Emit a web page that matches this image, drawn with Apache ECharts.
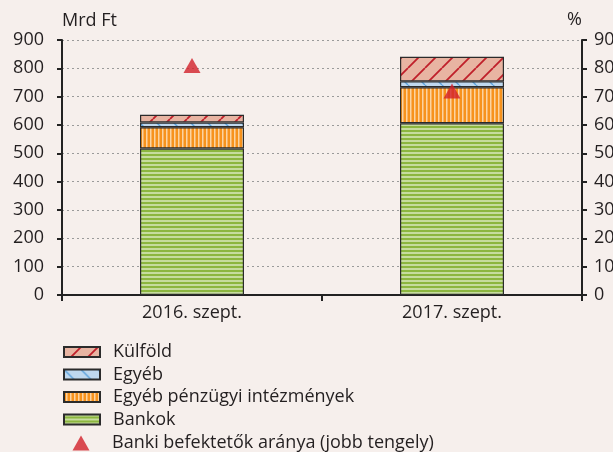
<!DOCTYPE html>
<html><head><meta charset="utf-8">
<script src="https://cdn.jsdelivr.net/npm/echarts@6/dist/echarts.min.js"></script>
<style>html,body{margin:0;padding:0;background:#f6efec;}#c{width:613px;height:452px;}</style>
</head><body><div id="c"></div>
<script>
const categories = ['2016. szept.', '2017. szept.'];
const bankok = [517, 606];
const egyebPenzugyi = [75, 127];
const egyeb = [17, 21];
const kulfold = [27, 87];
const bankiArany = [81, 72];
const leftTicks = [0, 900, 100];
const rightTicks = [0, 90, 10];

function pat(w, h, draw) {
  const c = document.createElement('canvas');
  c.width = w; c.height = h;
  const g = c.getContext('2d');
  draw(g, w, h);
  return { image: c, repeat: 'repeat' };
}
const greenPat = pat(4, 4, (g) => {
  g.fillStyle = '#c6dc9e'; g.fillRect(0, 0, 4, 4);
  g.fillStyle = '#8cb63f'; g.fillRect(0, 2, 4, 2);
});
const orangePat = pat(4, 4, (g) => {
  g.fillStyle = '#f7921c'; g.fillRect(0, 0, 4, 4);
  g.fillStyle = '#fcd3a0'; g.fillRect(2, 0, 1, 4);
  g.fillStyle = '#f9b261'; g.fillRect(3, 0, 1, 4);
});
const P = 17;
const bluePat = pat(P, P, (g) => {
  g.fillStyle = '#bfd8ef'; g.fillRect(0, 0, P, P);
  g.strokeStyle = '#5ca2dc'; g.lineWidth = 1.4;
  g.beginPath();
  g.moveTo(0, 0); g.lineTo(P, P);
  g.moveTo(-P, 0); g.lineTo(0, P);
  g.moveTo(P, 0); g.lineTo(2 * P, P);
  g.stroke();
});
const redPat = pat(P, P, (g) => {
  g.fillStyle = '#e8b4a2'; g.fillRect(0, 0, P, P);
  g.strokeStyle = '#c01f2b'; g.lineWidth = 1.8;
  g.beginPath();
  g.moveTo(0, P); g.lineTo(P, 0);
  g.moveTo(-P, P); g.lineTo(0, 0);
  g.moveTo(P, P); g.lineTo(2 * P, 0);
  g.stroke();
});

const FONT = 'Open Sans';
const FS = 18;
const txt = '#231f20';
const chart = echarts.init(document.getElementById('c'));
const barStyle = (fill) => ({ color: fill, borderColor: '#2b2b2b', borderWidth: 1.2 });
chart.setOption({
  backgroundColor: '#f6efec',
  animation: false,
  textStyle: { fontFamily: FONT },
  grid: { left: 62, right: 31, top: 40, bottom: 157, containLabel: false, outerBoundsMode: 'none' },
  legend: [{
    orient: 'vertical', left: 63, top: 343, padding: 0,
    icon: 'rect',
    itemWidth: 36, itemHeight: 10, itemGap: 4.5,
    textStyle: { fontFamily: FONT, fontSize: FS, color: txt, padding: [0, 0, 0, 8] },
    data: ['Külföld', 'Egyéb', 'Egyéb pénzügyi intézmények', 'Bankok']
  }, {
    orient: 'vertical', left: 72.5, top: 434, padding: 0,
    itemWidth: 17, itemHeight: 15,
    textStyle: { fontFamily: FONT, fontSize: FS, color: txt, padding: [0, 0, 0, 17.5] },
    data: [{ name: 'Banki befektetők aránya (jobb tengely)', icon: 'triangle' }]
  }],
  graphic: [{
    type: 'text', right: 31, top: 11,
    style: { text: '%', fill: txt, fontFamily: FONT, fontSize: FS }
  }],
  xAxis: {
    type: 'category', data: categories,
    axisLine: { lineStyle: { color: '#222', width: 2 } },
    axisTick: { show: true, length: 6, lineStyle: { color: '#222', width: 2 } },
    axisLabel: { color: txt, fontSize: FS, fontFamily: FONT, margin: 9 }
  },
  yAxis: [{
    type: 'value', min: leftTicks[0], max: leftTicks[1], interval: leftTicks[2],
    name: 'Mrd Ft', nameGap: 10, nameTextStyle: { color: txt, fontSize: FS, fontFamily: FONT, align: 'left' },
    axisLine: { show: true, lineStyle: { color: '#222', width: 2 } },
    axisTick: { show: true, length: 5, lineStyle: { color: '#222', width: 2 } },
    axisLabel: { color: txt, fontSize: FS, fontFamily: FONT, margin: 18 },
    splitLine: { show: true, lineStyle: { color: '#9a9a9a', type: [2, 3], width: 1 } }
  }, {
    type: 'value', min: rightTicks[0], max: rightTicks[1], interval: rightTicks[2],
    axisLine: { show: true, lineStyle: { color: '#222', width: 2 } },
    axisTick: { show: true, length: 5, lineStyle: { color: '#222', width: 2 } },
    axisLabel: { color: txt, fontSize: FS, fontFamily: FONT, margin: 12 },
    splitLine: { show: false }
  }],
  series: [
    { name: 'Bankok', type: 'bar', stack: 's', barWidth: '40%', data: bankok, itemStyle: barStyle(greenPat) },
    { name: 'Egyéb pénzügyi intézmények', type: 'bar', stack: 's', data: egyebPenzugyi, itemStyle: barStyle(orangePat) },
    { name: 'Egyéb', type: 'bar', stack: 's', data: egyeb, itemStyle: barStyle(bluePat) },
    { name: 'Külföld', type: 'bar', stack: 's', data: kulfold, itemStyle: barStyle(redPat) },
    { name: 'Banki befektetők aránya (jobb tengely)', type: 'scatter', yAxisIndex: 1, data: bankiArany,
      symbol: 'triangle', symbolSize: [17, 15], itemStyle: { color: '#d2202a' }, z: 5 }
  ]
});
</script></body></html>
